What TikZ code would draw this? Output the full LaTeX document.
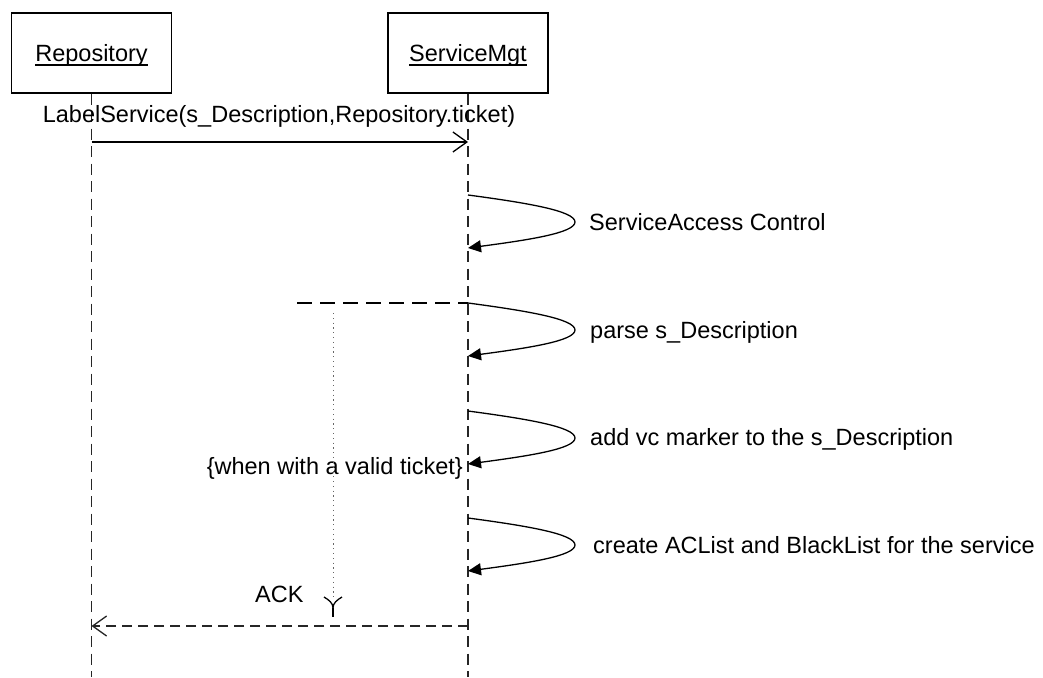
\documentclass[tikz,border=0pt]{standalone}
\usepackage{fontspec}
\setmainfont{Liberation Sans}
\usetikzlibrary{arrows.meta}
\begin{document}
\begin{tikzpicture}[x=1pt,y=-1pt,
  obj/.style={draw, line width=1.2pt, minimum width=160pt, minimum height=80pt, inner sep=0pt},
  lbl/.style={font=\fontsize{23.5}{28}\selectfont, inner sep=0pt},
  lifeline/.style={draw=black!85, line width=1.4pt, dash pattern=on 11pt off 6.5pt},
  msg/.style={line width=1.3pt, -{Straight Barb[length=14pt,width=20pt,line width=1.3pt]}},
  reply/.style={msg, draw=black!85, dash pattern=on 10pt off 6pt},
  selfcall/.style={line width=1.3pt, -{Triangle[length=13pt,width=12pt]}},
  frag/.style={line width=2pt, dash pattern=on 15pt off 8pt},
  guardline/.style={draw=black!60, line width=1pt, dash pattern=on 1.2pt off 3.6pt},
]
\useasboundingbox (0,0) rectangle (1043,677);

% objects
\node[obj] (repo) at (91.5,53) {};
\node[obj] (smgt) at (468,53) {};
\node[lbl, anchor=base] (repoName) at (91.5,62) {Repository};
\node[lbl, anchor=base] (smgtName) at (468,62) {ServiceMgt};
\draw[line width=1.3pt] ([yshift=-3pt]repoName.base west) -- ([yshift=-3pt]repoName.base east);
\draw[line width=1.3pt] ([yshift=-3pt]smgtName.base west) -- ([yshift=-3pt]smgtName.base east);

% lifelines
\coordinate (bottom) at (0,677);
\draw[lifeline] (repo.south) -- (repo.south |- bottom);
\draw[lifeline] (smgt.south) -- (smgt.south |- bottom);

% request message
\coordinate (r1) at (91.5,142);
\coordinate (s1) at (468,142);
\draw[msg] (r1) -- (s1);
\node[lbl, anchor=base] (msgLbl) at (279,122) {LabelService(s\_Description,Repository.ticket)};

% self calls on ServiceMgt
\foreach \s/\n in {195/a,303/b,411/c,518/d}{
  \coordinate (\n S) at (468,\s);
  \coordinate (\n E) at (468,\s+53);
  \draw[selfcall] (\n S) .. controls +(60,8) and +(0,-11) .. ++(107,27)
                        .. controls +(0,11) and +(60,-8) .. (\n E);
}
\node[lbl, anchor=base west] (t1) at (589,230) {ServiceAccess Control};
\node[lbl, anchor=base west] (t2) at (590,338) {parse s\_Description};
\node[lbl, anchor=base west] (t3) at (590,445) {add vc marker to the s\_Description};
\node[lbl, anchor=base west] (t4) at (593,553) {create ACList and BlackList for the service};
\node[lbl, anchor=base east] (guard) at (463,474) {\{when with a valid ticket\}};

% fragment line and guard extent
\coordinate (fragL) at (297,303);
\draw[frag] (fragL) -- (bS);
\coordinate (dotT) at (333,313);
\coordinate (dotB) at (333,597);
\draw[guardline] (dotT) -- (dotB);
\coordinate (yL) at (324,597);
\coordinate (yR) at (342,597);
\coordinate (yTip) at (333,608);
\coordinate (yB) at (333,617);
\draw[line width=1.3pt] (yL) .. controls (329,600) and (333,603) .. (yTip)
                        .. controls (333,603) and (337,600) .. (yR);
\draw[line width=1.3pt] (yTip) -- (yB);

% reply
\coordinate (ackS) at (468,626);
\coordinate (ackE) at (91.5,626);
\draw[reply] (ackS) -- (ackE);
\node[lbl, anchor=base west] (ack) at (255,602) {ACK};
\end{tikzpicture}
\end{document}
